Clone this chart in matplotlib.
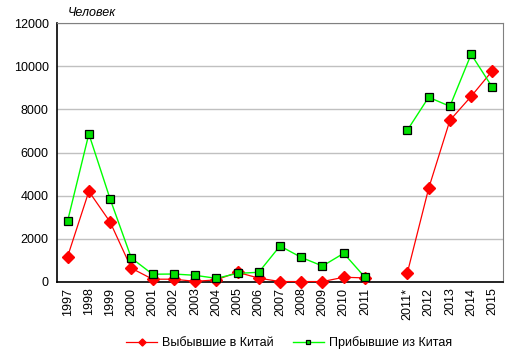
import numpy as np
import matplotlib.pyplot as plt

plt.rcParams['font.family'] = ['Liberation Sans', 'DejaVu Sans']

years = ['1997', '1998', '1999', '2000', '2001', '2002', '2003', '2004', '2005',
         '2006', '2007', '2008', '2009', '2010', '2011', '', '2011*', '2012',
         '2013', '2014', '2015']
left_china = [1180, 4200, 2780, 640, 130, 130, 30, 100, 450, 180, 20, 20, 20,
              220, 190, np.nan, 440, 4340, 7490, 8600, 9790]
came_china = [2830, 6860, 3850, 1110, 360, 370, 310, 170, 400, 450, 1670, 1140,
              740, 1330, 220, np.nan, 7040, 8560, 8140, 10550, 9020]

fig = plt.figure(figsize=(5.16, 3.58), dpi=100)
ax = fig.add_axes([57 / 516, 1 - 282 / 358, 446 / 516, 259 / 358])

x = np.arange(len(years))
ax.plot(x, left_china, color='#ff0000', lw=0.9, marker='D', ms=6,
        mfc='#ff0000', mec='#ff0000', label='Выбывшие в Китай', zorder=3,
        clip_on=False)
ax.plot(x, came_china, color='#00ff00', lw=1.0, marker='s', ms=6,
        mfc='#00e000', mec='black', mew=0.9, label='Прибывшие из Китая', zorder=3,
        clip_on=False)

ax.set_xlim(-0.5, len(years) - 0.5)
ax.set_ylim(0, 12000)
ax.set_yticks(range(0, 12001, 2000))
ax.set_xticks(x)
ax.set_xticklabels(years, rotation=90, fontsize=9)
ax.tick_params(axis='y', labelsize=9, length=0, pad=6)
ax.tick_params(axis='x', length=0, pad=4)
ax.yaxis.grid(True, color='#c0c0c0', lw=1)
ax.set_axisbelow(True)
for s in ['top', 'right']:
    ax.spines[s].set_color('#808080')
for s in ['left', 'bottom']:
    ax.spines[s].set_color('black')
    ax.spines[s].set_linewidth(1.2)

fig.text(68 / 516, 1 - 13 / 358, 'Человек', style='italic', fontsize=9,
         va='center', ha='left')

fig.legend(loc='center', bbox_to_anchor=(0.56, 1 - 343 / 358), ncol=2,
           frameon=False, fontsize=9, handlelength=2.5, markerscale=0.6,
           columnspacing=1.5, handletextpad=0.4)

fig.savefig('out.png', dpi=100)
